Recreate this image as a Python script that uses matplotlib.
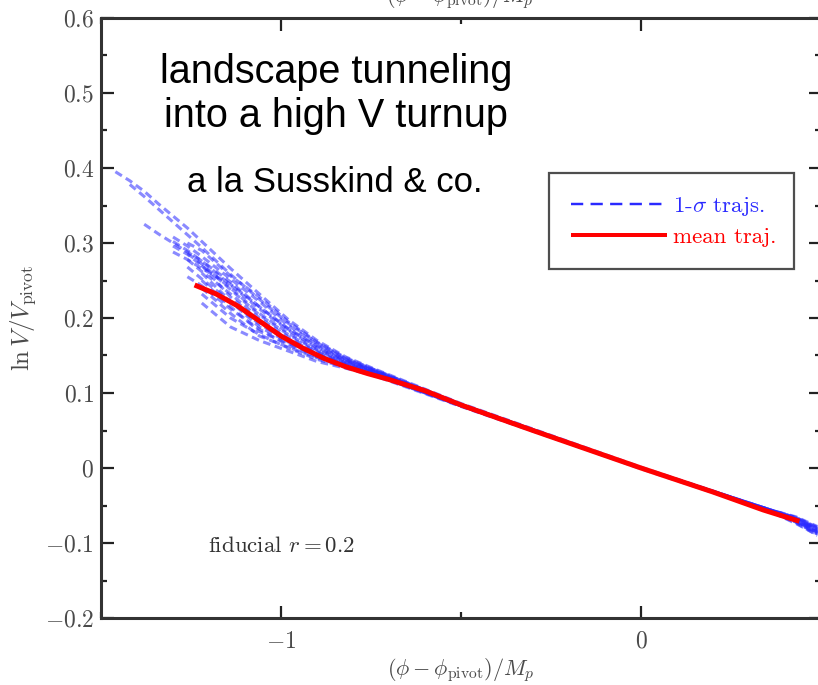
import matplotlib
matplotlib.use("Agg")
import matplotlib.pyplot as plt
import numpy as np

plt.rcParams['mathtext.fontset'] = 'cm'
plt.rcParams['font.family'] = ['cmr10', 'DejaVu Serif']
plt.rcParams['axes.formatter.use_mathtext'] = True

# ---------------- data ----------------
blue_x = [-1.46, -1.42, -1.38, -1.34, -1.30, -1.26, -1.22, -1.14, -1.06, -0.98,
          -0.90, -0.82, -0.74, -0.50, 0.00, 0.36, 0.43, 0.49]
N = None
blue_trajs = [
    [0.395, 0.383, 0.369, 0.352, 0.336, 0.320, 0.302, 0.266, 0.232, 0.198, 0.170, 0.148, 0.132, 0.086, 0.001, -0.056, -0.066, -0.080],
    [N, 0.378, 0.362, 0.345, 0.328, 0.311, 0.294, 0.258, 0.225, 0.193, 0.167, 0.146, 0.131, 0.085, 0.000, -0.057, -0.068, -0.084],
    [N, N, 0.325, 0.312, 0.300, 0.288, 0.276, 0.248, 0.215, 0.186, 0.163, 0.144, 0.130, 0.085, 0.000, -0.056, -0.067, -0.082],
    [N, N, N, N, 0.308, 0.296, 0.282, 0.252, 0.222, 0.190, 0.165, 0.145, 0.130, 0.084, 0.000, -0.057, -0.070, -0.086],
    [N, N, N, N, 0.296, 0.285, 0.270, 0.240, 0.206, 0.180, 0.158, 0.142, 0.128, 0.084, -0.001, -0.058, -0.072, -0.088],
    [N, N, N, N, N, 0.278, 0.262, 0.232, 0.200, 0.175, 0.155, 0.140, 0.127, 0.084, 0.000, -0.056, -0.065, -0.078],
    [N, N, N, N, N, 0.268, 0.252, 0.222, 0.192, 0.170, 0.152, 0.138, 0.126, 0.083, 0.000, -0.057, -0.069, -0.083],
    [N, N, N, N, N, 0.255, 0.243, 0.212, 0.185, 0.164, 0.148, 0.136, 0.125, 0.083, 0.000, -0.058, -0.073, -0.090],
    [N, N, N, N, N, N, 0.232, 0.200, 0.178, 0.160, 0.145, 0.134, 0.124, 0.083, 0.000, -0.056, -0.067, -0.081],
    [N, N, N, N, N, N, 0.220, 0.188, 0.170, 0.156, 0.142, 0.133, 0.123, 0.082, 0.000, -0.057, -0.071, -0.087],
    [N, N, N, N, 0.288, 0.278, 0.266, 0.245, 0.215, 0.185, 0.162, 0.143, 0.129, 0.084, 0.000, -0.056, -0.066, -0.079],
    [N, N, N, N, N, N, 0.270, 0.228, 0.196, 0.172, 0.154, 0.139, 0.127, 0.084, 0.000, -0.057, -0.070, -0.085],
    [N, N, N, N, N, 0.300, 0.290, 0.256, 0.228, 0.195, 0.168, 0.147, 0.131, 0.085, 0.000, -0.056, -0.068, -0.082],
    [N, N, N, N, N, N, 0.250, 0.215, 0.182, 0.166, 0.150, 0.137, 0.125, 0.083, 0.000, -0.058, -0.074, -0.089],
    [N, N, N, N, 0.302, 0.290, 0.276, 0.244, 0.212, 0.184, 0.160, 0.143, 0.129, 0.084, 0.000, -0.057, -0.069, -0.084],
    [N, N, N, N, N, 0.286, 0.272, 0.238, 0.204, 0.178, 0.157, 0.141, 0.128, 0.084, 0.000, -0.056, -0.066, -0.080],
    [N, N, N, N, N, N, 0.260, 0.222, 0.188, 0.168, 0.151, 0.138, 0.126, 0.083, 0.000, -0.057, -0.072, -0.088],
    [N, N, N, N, N, N, 0.240, 0.206, 0.176, 0.161, 0.147, 0.135, 0.124, 0.083, 0.000, -0.058, -0.070, -0.086],
]

red_x = [-1.24, -1.18, -1.12, -1.06, -1.00, -0.94, -0.88, -0.82, -0.76, -0.70,
         -0.60, -0.50, -0.30, 0.00, 0.20, 0.34, 0.44]
red_y = [0.244, 0.232, 0.216, 0.196, 0.176, 0.160, 0.146, 0.135, 0.126, 0.118,
         0.103, 0.084, 0.050, 0.000, -0.032, -0.056, -0.071]

x_ticks = [-1, 0]
x_ticklabels = [r'$-1$', r'$0$']
y_ticks = [-0.2, -0.1, 0.0, 0.1, 0.2, 0.3, 0.4, 0.5, 0.6]
y_ticklabels = [r'$-0.2$', r'$-0.1$', r'$0$', r'$0.1$', r'$0.2$', r'$0.3$',
                r'$0.4$', r'$0.5$', r'$0.6$']

legend_labels = [r'1-$\sigma$ trajs.', 'mean traj.']
xlabel = r'$(\phi-\phi_{\rm pivot})/M_p$'
ylabel = r'$\ln V/V_{\rm pivot}$'

# ---------------- figure ----------------
W, H = 818, 685
fig = plt.figure(figsize=(W / 100, H / 100), dpi=100)
ax = fig.add_axes([101 / W, (H - 618) / H, 720 / W, 600 / H])

blue = '#2a2aff'
red = '#ff0000'
for i, traj in enumerate(blue_trajs):
    xs = [x for x, y in zip(blue_x, traj) if y is not None]
    ys = [y for y in traj if y is not None]
    ax.plot(xs, ys, color=blue, lw=2.2, alpha=0.55, ls=(0, (2.5, 1.5)),
            label=legend_labels[0] if i == 0 else None, zorder=2)
ax.plot(red_x, red_y, color=red, lw=3.6, label=legend_labels[1], zorder=3,
        solid_capstyle='butt')

ax.set_xlim(-1.5, 0.5)
ax.set_ylim(-0.2, 0.6)
ax.set_xticks(x_ticks)
ax.set_xticklabels(x_ticklabels)
ax.set_xticks([-1.5, -0.5, 0.5], minor=True)
ax.set_yticks(y_ticks)
ax.set_yticklabels(y_ticklabels)
ax.set_yticks(np.arange(-0.15, 0.6, 0.1), minor=True)

tick_col = '#4a4a4a'
ax.tick_params(which='both', direction='in', top=True, right=True,
               color='#222222', width=1.6)
ax.tick_params(which='major', length=9, labelsize=17, labelcolor=tick_col)
ax.tick_params(which='minor', length=4.5)
ax.tick_params(axis='x', which='major', pad=9)
ax.tick_params(axis='y', which='major', pad=5)
for s in ax.spines.values():
    s.set_color('#333333')
    s.set_linewidth(2.2)

ax.set_xlabel(xlabel, fontsize=16, color=tick_col)
ax.xaxis.set_label_coords(0.5, -0.064)
ax.xaxis.label.set_va('top')
ax.set_ylabel(ylabel, fontsize=18, color=tick_col)
ax.yaxis.set_label_coords(-0.088, 0.5)

# cut-off top label
fig.text(460 / W, 1 + 2.5 / H, xlabel, ha='center', va='center',
         fontsize=16, color=tick_col)

ax.text(-1.0, -0.112, r'fiducial $r=0.2$', ha='center', va='baseline',
        fontsize=16.5, color='#333333')

leg = ax.legend(loc='upper left', bbox_to_anchor=(0.622, 0.584, 0.3405, 0.158),
                mode='expand', fancybox=False, frameon=True, fontsize=16.5,
                handlelength=4.2, handletextpad=0.25, labelspacing=0.4,
                borderpad=0.95, labelcolor='linecolor', borderaxespad=0)
leg.get_frame().set_edgecolor('#222222')
leg.get_frame().set_linewidth(1.6)
for lh in leg.get_lines():
    lh.set_alpha(1.0)
    lh.set_linewidth(lh.get_linewidth() * 0.8)
leg.get_lines()[0].set_linestyle((0, (5, 3)))

sans = ['Liberation Sans', 'DejaVu Sans']
fig.text(336 / W, 1 - 83 / H, 'landscape tunneling', ha='center',
         va='baseline', fontsize=28.5, family=sans, color='black')
fig.text(336 / W, 1 - 127 / H, 'into a high V turnup', ha='center',
         va='baseline', fontsize=28.5, family=sans, color='black')
fig.text(335 / W, 1 - 192 / H, 'a la Susskind & co.', ha='center',
         va='baseline', fontsize=25, family=sans, color='black')

fig.savefig('out.png', dpi=100)
